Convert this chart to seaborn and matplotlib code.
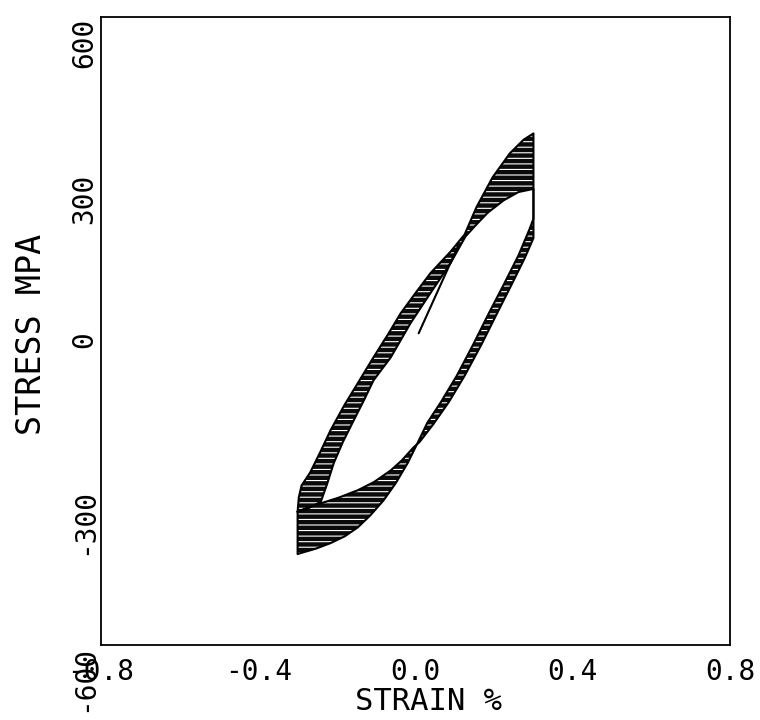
import matplotlib
matplotlib.use("Agg")
import matplotlib.pyplot as plt
import seaborn as sns
import pandas as pd
from matplotlib.path import Path
from matplotlib.patches import PathPatch

# ---------------- data ----------------
# First-cycle (outer) hysteresis loop: loading branch, hold drop, unloading branch
loopA_strain = [-0.300, -0.297, -0.290, -0.268, -0.243, -0.216, -0.180, -0.145, -0.107,
                -0.070, -0.038, 0.000, 0.038, 0.089, 0.125, 0.155, 0.196, 0.240, 0.275, 0.300,
                0.300, 0.290, 0.262, 0.225, 0.187, 0.147, 0.105, 0.065, 0.030, 0.005,
                -0.020, -0.050, -0.081, -0.115, -0.147, -0.180, -0.216, -0.255, -0.292, -0.300,
                -0.300]
loopA_stress = [-345, -318, -295, -270, -232, -189, -140, -97, -50,
                -6, 34, 73, 111, 152, 185, 237, 294, 340, 366, 378,
                215, 195, 145, 90, 35, -25, -85, -135, -175, -214,
                -252, -290, -323, -352, -375, -392, -405, -416, -424, -426,
                -345]

# Stabilised (inner) hysteresis loop
loopB_strain = [-0.300, -0.262, -0.241, -0.225, -0.208, -0.185, -0.157, -0.130, -0.107,
                -0.063, -0.013, 0.038, 0.089, 0.127, 0.150, 0.183, 0.224, 0.262, 0.300,
                0.300, 0.278, 0.245, 0.208, 0.168, 0.125, 0.085, 0.045, 0.010,
                -0.005, -0.035, -0.063, -0.105, -0.147, -0.195, -0.241, -0.270, -0.300]
loopB_stress = [-345, -334, -326, -292, -252, -212, -170, -130, -94,
                -50, 15, 73, 130, 181, 200, 226, 250, 266, 272,
                178, 140, 90, 35, -25, -85, -135, -178, -212,
                -222, -247, -266, -288, -304, -318, -329, -337, -345]

# Initial (monotonic) loading line from the origin
initial_strain = [0.008, 0.109]
initial_stress = [-4, 164]

x_ticks = [-0.8, -0.6, -0.4, -0.2, 0.0, 0.2, 0.4, 0.6, 0.8]
x_tick_labels = ["-0.8", "", "-0.4", "", "0.0", "", "0.4", "", "0.8"]
y_ticks = [-600, -450, -300, -150, 0, 150, 300, 450, 600]
y_tick_labels = ["-600", "", "-300", "", "0", "", "300", "", "600"]

x_label = "STRAIN %"
y_label = "STRESS MPA"

# ---------------- plotting ----------------
sns.set_theme(style="white")
plt.rcParams["font.family"] = ["DejaVu Sans Mono", "DejaVu Sans"]
plt.rcParams["hatch.linewidth"] = 0.8

fig = plt.figure(figsize=(7.6, 7.2), dpi=100)
ax = fig.add_axes([0.133, 0.104, 0.8275, 0.872])

# shaded band between the loops (symmetric difference of the two loop areas)
vA = list(zip(loopA_strain, loopA_stress))
vB = list(zip(loopB_strain[::-1], loopB_stress[::-1]))
verts = vA + vB
codes = ([Path.MOVETO] + [Path.LINETO] * (len(vA) - 1) +
         [Path.MOVETO] + [Path.LINETO] * (len(vB) - 1))
band = PathPatch(Path(verts, codes), facecolor="#0a0a0a", edgecolor="white",
                 linewidth=0, hatch="---", zorder=2)
ax.add_patch(band)

dfA = pd.DataFrame({"strain": loopA_strain, "stress": loopA_stress})
dfB = pd.DataFrame({"strain": loopB_strain, "stress": loopB_stress})
dfI = pd.DataFrame({"strain": initial_strain, "stress": initial_stress})
for df in (dfA, dfB, dfI):
    sns.lineplot(data=df, x="strain", y="stress", sort=False, estimator=None,
                 color="black", linewidth=1.5, ax=ax, zorder=3)

ax.set_xlim(-0.8, 0.8)
ax.set_ylim(-600, 600)
ax.set_xticks(x_ticks)
ax.set_xticklabels(x_tick_labels, fontsize=20)
ax.set_yticks(y_ticks)
ax.set_yticklabels(y_tick_labels, fontsize=20, rotation=90, va="top", ha="center")
ax.tick_params(axis="both", direction="out", length=6, width=1.1, color="black",
               labelcolor="black")
ax.tick_params(axis="x", pad=3)
ax.tick_params(axis="y", pad=6)
for s in ax.spines.values():
    s.set_visible(True)
    s.set_color("black")
    s.set_linewidth(1.3)

ax.set_xlabel(x_label, fontsize=22, color="black")
ax.set_ylabel(y_label, fontsize=24, color="black")
ax.xaxis.set_label_coords(0.52, -0.066)
ax.xaxis.label.set_va("top")
ax.yaxis.set_label_coords(-0.084, 0.495)

fig.savefig("out.png", dpi=100, facecolor="white")
